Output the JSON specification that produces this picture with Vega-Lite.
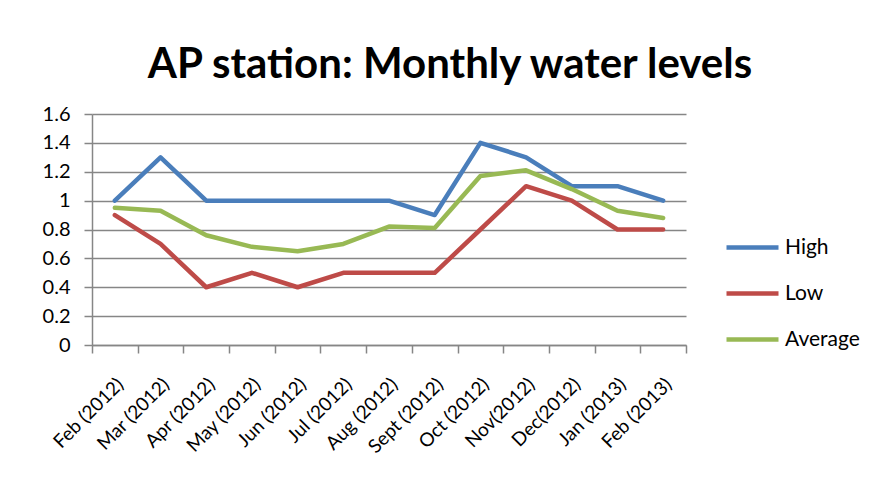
{
  "$schema": "https://vega.github.io/schema/vega-lite/v6.json",
  "width": 594,
  "height": 231,
  "autosize": {"type": "none"},
  "padding": {"left": 92, "top": 114, "right": 192, "bottom": 151},
  "background": "white",
  "title": {
    "text": "AP station: Monthly water levels",
    "font": "Lato",
    "fontSize": 42,
    "fontWeight": "bold",
    "color": "#000000",
    "anchor": "middle",
    "frame": "group",
    "dx": 61,
    "offset": 17
  },
  "data": {
    "values": [
      {"month": "Feb (2012)", "series": "High", "value": 1.0},
      {"month": "Mar (2012)", "series": "High", "value": 1.3},
      {"month": "Apr (2012)", "series": "High", "value": 1.0},
      {"month": "May (2012)", "series": "High", "value": 1.0},
      {"month": "Jun (2012)", "series": "High", "value": 1.0},
      {"month": "Jul (2012)", "series": "High", "value": 1.0},
      {"month": "Aug (2012)", "series": "High", "value": 1.0},
      {"month": "Sept (2012)", "series": "High", "value": 0.9},
      {"month": "Oct (2012)", "series": "High", "value": 1.4},
      {"month": "Nov(2012)", "series": "High", "value": 1.3},
      {"month": "Dec(2012)", "series": "High", "value": 1.1},
      {"month": "Jan (2013)", "series": "High", "value": 1.1},
      {"month": "Feb (2013)", "series": "High", "value": 1.0},
      {"month": "Feb (2012)", "series": "Low", "value": 0.9},
      {"month": "Mar (2012)", "series": "Low", "value": 0.7},
      {"month": "Apr (2012)", "series": "Low", "value": 0.4},
      {"month": "May (2012)", "series": "Low", "value": 0.5},
      {"month": "Jun (2012)", "series": "Low", "value": 0.4},
      {"month": "Jul (2012)", "series": "Low", "value": 0.5},
      {"month": "Aug (2012)", "series": "Low", "value": 0.5},
      {"month": "Sept (2012)", "series": "Low", "value": 0.5},
      {"month": "Oct (2012)", "series": "Low", "value": 0.8},
      {"month": "Nov(2012)", "series": "Low", "value": 1.1},
      {"month": "Dec(2012)", "series": "Low", "value": 1.0},
      {"month": "Jan (2013)", "series": "Low", "value": 0.8},
      {"month": "Feb (2013)", "series": "Low", "value": 0.8},
      {"month": "Feb (2012)", "series": "Average", "value": 0.95},
      {"month": "Mar (2012)", "series": "Average", "value": 0.93},
      {"month": "Apr (2012)", "series": "Average", "value": 0.76},
      {"month": "May (2012)", "series": "Average", "value": 0.68},
      {"month": "Jun (2012)", "series": "Average", "value": 0.65},
      {"month": "Jul (2012)", "series": "Average", "value": 0.70},
      {"month": "Aug (2012)", "series": "Average", "value": 0.82},
      {"month": "Sept (2012)", "series": "Average", "value": 0.81},
      {"month": "Oct (2012)", "series": "Average", "value": 1.17},
      {"month": "Nov(2012)", "series": "Average", "value": 1.21},
      {"month": "Dec(2012)", "series": "Average", "value": 1.08},
      {"month": "Jan (2013)", "series": "Average", "value": 0.93},
      {"month": "Feb (2013)", "series": "Average", "value": 0.88}
    ]
  },
  "mark": {"type": "line", "strokeWidth": 4.5, "strokeCap": "round", "strokeJoin": "round"},
  "encoding": {
    "x": {
      "field": "month",
      "type": "nominal",
      "sort": null,
      "bandPosition": 0.5,
      "scale": {"type": "band", "paddingInner": 0, "paddingOuter": 0},
      "axis": {
        "title": null,
        "tickBand": "extent",
        "labelAngle": -45,
        "labelAlign": "right",
        "labelBaseline": "middle",
        "labelFont": "Lato",
        "labelFontSize": 19,
        "labelColor": "#000000",
        "labelPadding": 28,
        "labelOffset": 5,
        "domainColor": "#868686",
        "domainWidth": 1.5,
        "tickColor": "#868686",
        "tickWidth": 1.5,
        "tickSize": 8,
        "grid": false,
        "labelOverlap": false
      }
    },
    "y": {
      "field": "value",
      "type": "quantitative",
      "scale": {"domain": [0, 1.6], "nice": false, "zero": true},
      "axis": {
        "title": null,
        "values": [0, 0.2, 0.4, 0.6, 0.8, 1.0, 1.2, 1.4, 1.6],
        "format": ".1~f",
        "labelFont": "Lato",
        "labelFontSize": 20,
        "labelColor": "#000000",
        "labelPadding": 14,
        "domainColor": "#868686",
        "domainWidth": 1.5,
        "tickColor": "#868686",
        "tickWidth": 1.5,
        "tickSize": 8,
        "grid": true,
        "gridColor": "#868686",
        "gridWidth": 1.5
      }
    },
    "color": {
      "field": "series",
      "type": "nominal",
      "sort": ["High", "Low", "Average"],
      "scale": {"domain": ["High", "Low", "Average"], "range": ["#4A7EBB", "#BE4B48", "#98B954"]},
      "legend": {
        "title": null,
        "orient": "none",
        "legendX": 632,
        "legendY": 105,
        "symbolType": "stroke",
        "symbolSize": 2704,
        "symbolStrokeWidth": 4.5,
        "labelFont": "Lato",
        "labelFontSize": 21,
        "labelColor": "#000000",
        "labelOffset": 4,
        "rowPadding": 7
      }
    }
  },
  "config": {
    "view": {"stroke": null},
    "font": "Lato"
  }
}
